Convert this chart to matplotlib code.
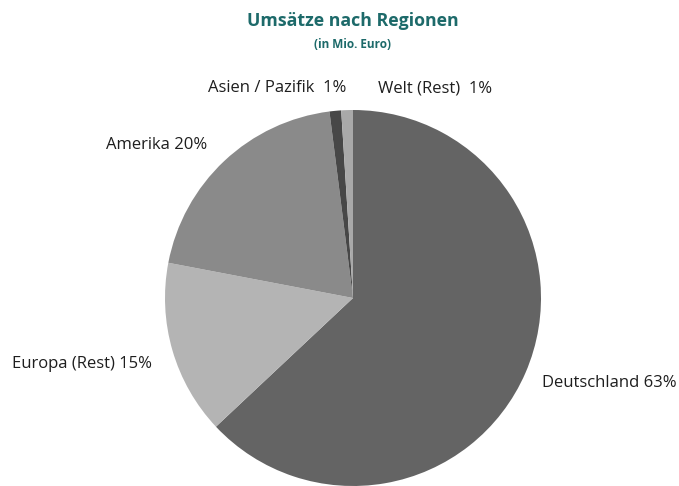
import matplotlib
matplotlib.use("Agg")
from matplotlib import pyplot as plt

regions = ["Deutschland", "Europa (Rest)", "Amerika", "Asien / Pazifik", "Welt (Rest)"]
shares = [63, 15, 20, 1, 1]
label_texts = ["Deutschland 63%", "Europa (Rest) 15%", "Amerika 20%",
               "Asien / Pazifik  1%", "Welt (Rest)  1%"]
colors = ["#646464", "#b4b4b4", "#8a8a8a", "#474747", "#a9a9a9"]

plt.rcParams["font.family"] = ["Open Sans", "DejaVu Sans"]

W, H = 679, 486
fig = plt.figure(figsize=(W / 100, H / 100), dpi=100)

cx, cy, r = 353, 298, 188
ax = fig.add_axes([(cx - r) / W, (H - cy - r) / H, 2 * r / W, 2 * r / H])
ax.pie(shares, colors=colors, startangle=90, counterclock=False,
       wedgeprops={"linewidth": 0})
ax.set_xlim(-1, 1)
ax.set_ylim(-1, 1)
ax.axis("off")

# label positions in pixels (center of text)
label_pos = [(609, 383), (82, 364), (157, 145), (277, 88), (435, 88)]
for txt, (px, py) in zip(label_texts, label_pos):
    fig.text(px / W, 1 - py / H, txt, ha="center", va="center",
             fontsize=12, color="#1e1e1e")

fig.text(353 / W, 1 - 21 / H, "Umsätze nach Regionen", ha="center", va="center",
         fontsize=12.8, fontweight="bold", color="#1d6a6a")
fig.text(352 / W, 1 - 44 / H, "(in Mio. Euro)", ha="center", va="center",
         fontsize=8.5, fontweight="bold", color="#1d6a6a")

fig.savefig("out.png", dpi=100)
